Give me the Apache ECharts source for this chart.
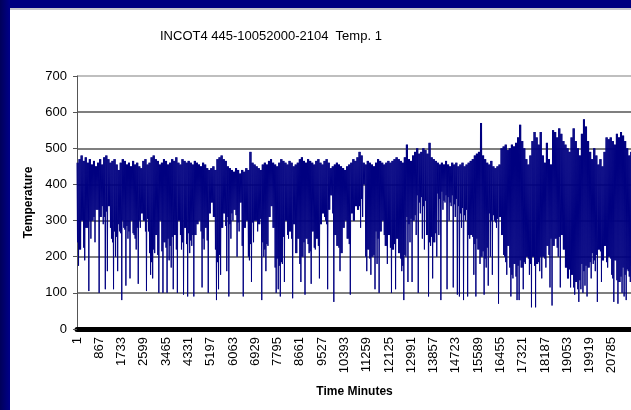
<!DOCTYPE html>
<html>
<head>
<meta charset="utf-8">
<script src="https://cdn.jsdelivr.net/npm/echarts@6/dist/echarts.min.js"></script>
<style>html,body{margin:0;padding:0;background:#fff}#c{width:631px;height:410px}</style>
</head>
<body>
<div id="c"></div>
<script>
// Envelope of the recorded temperature, one bucket per 80 minutes
const bucketMinutes = 80;
const tempMax = [
460,470,480,465,475,460,470,455,465,450,
460,470,455,475,480,470,460,465,470,455,
440,460,470,465,455,460,450,465,455,460,
450,445,465,470,455,460,475,480,470,465,
455,460,470,465,455,460,470,465,475,460,
455,470,465,460,
465,460,455,465,460,455,450,460,455,445,
440,445,450,440,470,475,480,470,465,450,
445,440,435,445,440,430,440,435,445,440,
490,460,455,450,445,440,455,460,455,465,
470,460,455,450,460,470,465,460,455,465,
460,450,455,460,
470,475,465,460,470,465,460,455,465,470,
460,455,465,470,460,445,450,455,460,455,
450,445,440,450,455,460,470,465,475,490,
480,460,455,465,460,455,450,460,470,465,
460,455,460,465,460,465,470,475,470,465,
460,475,510,
470,465,480,490,500,485,490,500,495,485,
515,475,470,465,460,455,460,455,465,455,
450,460,455,460,450,455,460,450,455,460,
465,470,480,485,490,570,480,470,460,455,
465,450,445,450,455,500,505,510,495,500,
510,505,515,
530,565,520,500,470,455,480,520,545,530,
510,545,480,460,515,470,455,550,545,530,
555,540,520,510,500,490,530,555,520,500,
480,540,580,560,520,490,470,500,480,455,
470,450,490,530,525,530,520,510,540,530,
545,535,520,500,480,490,470,500,480
];
const tempMin = [
175,220,300,190,280,105,250,300,240,330,
100,310,290,110,160,340,250,110,200,160,
270,80,280,120,250,140,300,260,220,125,
280,320,300,105,270,150,140,210,260,100,
300,100,240,100,190,170,110,260,100,300,
220,95,280,90,
210,230,90,260,290,300,115,220,280,100,
320,350,310,80,110,150,280,320,160,90,
250,300,330,200,270,350,90,280,300,190,
130,240,300,270,290,80,200,160,230,310,
340,280,100,110,90,180,130,300,250,270,
85,290,210,250,
130,200,95,250,210,125,270,220,250,140,
290,320,300,110,330,370,75,260,230,160,
210,280,300,250,95,320,300,340,330,280,
310,400,160,220,150,200,110,180,100,270,
300,230,180,260,100,220,110,250,210,160,
80,200,130,
240,130,300,260,100,320,250,220,260,90,
230,140,240,200,260,80,330,350,110,300,
340,115,310,95,90,280,80,300,90,250,
260,150,90,220,180,200,95,170,120,200,
150,300,280,70,310,260,200,150,230,90,
140,180,80,
80,170,110,180,200,150,60,200,60,180,
160,140,200,170,230,115,65,230,250,200,
115,260,220,170,140,115,150,95,130,75,
110,100,120,90,170,140,180,160,75,220,
130,190,230,170,200,150,75,190,70,130,
100,90,80,160,130,150,200,120,180
];
// Lower edge of the dense band in each bucket
const tempBandLow = [
240,210,260,225,250, 280,300,270,310,285, 330,300,340,310,325, 250,280,240,270,255,
290,265,300,275,285, 270,245,265,250,280, 300,280,295,270,305, 210,185,220,195,205,
240,215,235,225,250, 230,255,240,220,250, 260,240,255,235,265, 245,260,235,255,250,
270,250,265,245,275, 210,190,220,185,205, 280,300,285,310,290, 320,300,315,295,325,
230,210,225,200,235, 295,275,300,285,305, 240,220,235,215,245, 190,170,195,175,185,
255,240,260,235,250, 185,170,195,180,200, 240,220,235,215,245, 225,245,230,210,240,
310,290,305,285,320, 230,210,225,205,235, 240,225,235,215,245, 330,310,340,360,320,
200,180,195,175,205, 270,250,265,245,260, 230,210,225,205,235, 200,185,195,175,205,
310,290,305,285,315, 370,350,365,340,355, 260,240,255,235,265, 375,360,380,355,370,
365,350,370,345,360, 340,320,335,315,330, 260,240,255,235,250, 220,200,215,195,225,
320,300,315,295,305, 210,190,205,185,215, 170,150,165,145,175, 190,170,185,165,195,
180,160,175,155,185, 200,180,195,175,205, 250,230,245,225,255, 160,140,155,135,165,
130,115,125,110,135, 180,160,175,155,185, 210,190,205,185,215, 190,170,185,165,195,
140,125,135,120,145, 170,150,165,145,175, 180,165,175
];
const timeTicks = [1,867,1733,2599,3465,4331,5197,6063,6929,7795,8661,9527,10393,11259,12125,12991,13857,14723,15589,16455,17321,18187,19053,19919,20785];
const tempTicks = [0,100,200,300,400,500,600,700];
const titleText = 'INCOT4 445-10052000-2104  Temp. 1';
const xName = 'Time Minutes';
const yName = 'Temperature';

const seriesData = [];
for (let i = 0; i < tempMax.length; i++) {
  const x0 = 1 + bucketMinutes * i;
  const band = Math.max(tempMin[i], tempBandLow[i]);
  seriesData.push([x0, tempMax[i]]);
  seriesData.push([x0 + bucketMinutes / 4, band]);
  seriesData.push([x0 + bucketMinutes / 2, tempMax[i]]);
  seriesData.push([x0 + bucketMinutes * 3 / 4, tempMin[i]]);
}

const FONT = '"Liberation Sans", Arial, sans-serif';
const chart = echarts.init(document.getElementById('c'), null, {renderer: 'canvas'});
chart.setOption({
  animation: false,
  backgroundColor: '#fff',
  title: {
    text: titleText, left: 155, top: 25,
    textStyle: {fontFamily: FONT, fontSize: 13, fontWeight: 'normal', color: '#000'}
  },
  grid: {left: 77, top: 76, width: 579, height: 253, containLabel: false, outerBoundsMode: 'none'},
  xAxis: {
    type: 'value', min: 1, max: 22500,
    name: xName, nameLocation: 'middle', nameGap: 57,
    nameTextStyle: {fontFamily: FONT, fontSize: 12, fontWeight: 'bold', color: '#000', padding: [0, 24, 0, 0]},
    axisLine: {show: true, onZero: false, lineStyle: {color: '#000', width: 5}},
    axisTick: {show: false},
    splitLine: {show: false},
    axisLabel: {
      customValues: timeTicks, rotate: 90, margin: 8,
      fontFamily: FONT, fontSize: 13, color: '#000',
      formatter: v => String(v)
    }
  },
  yAxis: {
    type: 'value', min: 0, max: 700, interval: 100,
    name: yName, nameLocation: 'middle', nameGap: 40, nameRotate: 90,
    nameTextStyle: {fontFamily: FONT, fontSize: 12, fontWeight: 'bold', color: '#000'},
    axisLine: {show: true, lineStyle: {color: '#555', width: 1}},
    axisTick: {show: true, length: 4, lineStyle: {color: '#555'}},
    axisLabel: {margin: 10, fontFamily: FONT, fontSize: 13, color: '#000',
      formatter: v => tempTicks.includes(v) ? String(v) : ''},
    splitLine: {show: true, lineStyle: {color: ['#000','#555','#555','#555','#555','#555','#555','#aaa'], width: 1.5}}
  },
  series: [{
    type: 'line', data: seriesData, showSymbol: false, symbol: 'none',
    sampling: null, clip: true,
    lineStyle: {color: '#000080', width: 1},
    z: 3
  }],
  graphic: [
    {type: 'rect', shape: {x: 0, y: 0, width: 631, height: 8}, style: {fill: '#000080'}, z: 100},
    {type: 'rect', shape: {x: 10, y: 8, width: 621, height: 2}, style: {fill: '#c8c8cc'}, z: 100},
    {type: 'rect', shape: {x: 0, y: 0, width: 10, height: 410},
      style: {fill: new echarts.graphic.LinearGradient(0, 0, 1, 0, [{offset: 0, color: '#00005a'}, {offset: 1, color: '#000088'}])}, z: 100}
  ]
});
</script>
</body>
</html>
